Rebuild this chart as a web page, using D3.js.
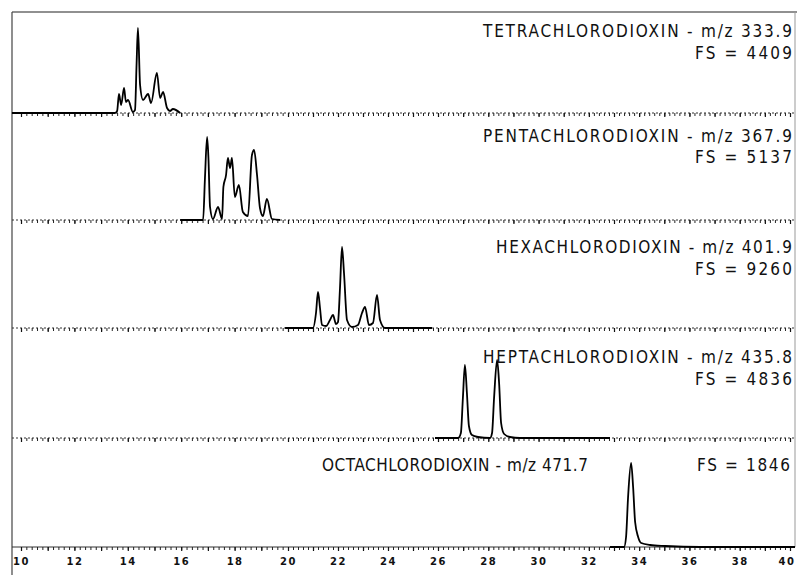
<!DOCTYPE html>
<html>
<head>
<meta charset="utf-8">
<script src="https://cdn.jsdelivr.net/npm/d3@7"></script>
<style>
  body { margin: 0; background: #fff; }
  text { font-family: "DejaVu Sans Condensed", "DejaVu Sans", sans-serif; fill: #111; }
</style>
</head>
<body>
<div id="chart"></div>
<script>
// retention time (min) and response (% of full scale), one pair per ion trace
var tetraTime = [9.66, 13.52, 13.60, 13.67, 13.75, 13.86, 13.93, 14.01, 14.19, 14.27, 14.33, 14.38, 14.46, 14.57, 14.76, 14.87, 15.09, 15.21, 15.32, 15.47, 15.58, 15.69, 15.96]
var tetraResp = [0, 0, 2, 19, 8, 25, 11, 13, 1, 3, 50, 85, 28, 13, 19, 10, 40, 15, 21, 5, 2, 4, 0]

var pentaTime = [15.96, 16.82, 16.89, 16.97, 17.02, 17.08, 17.19, 17.38, 17.53, 17.58, 17.68, 17.75, 17.83, 17.90, 18.01, 18.16, 18.31, 18.50, 18.65, 18.73, 18.84, 18.95, 19.06, 19.21, 19.40, 19.70]
var pentaResp = [0, 0, 42, 83, 62, 13, 1, 13, 1, 33, 45, 62, 52, 62, 23, 35, 8, 4, 65, 70, 45, 12, 4, 21, 1, 0]

var hexaTime = [19.89, 21.00, 21.12, 21.20, 21.28, 21.36, 21.52, 21.68, 21.80, 21.92, 22.00, 22.08, 22.16, 22.24, 22.36, 22.56, 22.80, 22.96, 23.08, 23.24, 23.40, 23.56, 23.68, 23.88, 25.76]
var hexaResp = [0, 0, 15, 36, 20, 3, 2, 8, 13, 4, 6, 40, 81, 55, 8, 1, 3, 15, 21, 3, 5, 33, 8, 0, 0]

var heptaTime = [25.88, 26.80, 26.91, 26.99, 27.07, 27.15, 27.23, 27.35, 27.59, 28.07, 28.15, 28.23, 28.35, 28.43, 28.51, 28.63, 28.86, 29.26, 32.84]
var heptaResp = [0, 0, 5, 40, 73, 45, 12, 3, 1, 0, 5, 40, 78, 55, 15, 4, 1, 0, 0]

var octaTime = [32.84, 33.40, 33.48, 33.56, 33.68, 33.76, 33.84, 33.96, 34.08, 34.44, 35.04, 36.43, 40.2]
var octaResp = [0, 0, 10, 50, 84, 60, 25, 10, 4, 2, 1, 0, 0]

var compounds = ["TETRACHLORODIOXIN", "PENTACHLORODIOXIN", "HEXACHLORODIOXIN", "HEPTACHLORODIOXIN", "OCTACHLORODIOXIN"]
var masses = ["333.9", "367.9", "401.9", "435.8", "471.7"]
var fullScale = [4409, 5137, 9260, 4836, 1846]
var tickLabels = [10, 12, 14, 16, 18, 20, 22, 24, 26, 28, 30, 32, 34, 36, 38, 40]

var traces = [
  {time: tetraTime, resp: tetraResp},
  {time: pentaTime, resp: pentaResp},
  {time: hexaTime, resp: hexaResp},
  {time: heptaTime, resp: heptaResp},
  {time: octaTime, resp: octaResp}
]

var width = 797, height = 575

var svg = d3.select("#chart")
  .append("svg")
    .attr("width", width)
    .attr("height", height)

// the recorder chart is slightly stretched on the left half
var x = d3.scaleLinear()
  .domain([10, 20, 26, 40])
  .range([21, 288, 438, 790])

// layout of the five stacked panels
var baselines = [113, 220, 328, 438, 547]
var titleY = [37, 142, 253, 363, 471]
var fsY = [59, 163, 275, 385, 471]

// frame
svg.append("line").attr("x1", 12).attr("x2", 797).attr("y1", 12).attr("y2", 12)
  .attr("stroke", "#222").attr("stroke-width", 1.2)
svg.append("line").attr("x1", 12).attr("x2", 12).attr("y1", 12).attr("y2", 575)
  .attr("stroke", "#444").attr("stroke-width", 1.2)
svg.append("line").attr("x1", 795).attr("x2", 795).attr("y1", 12).attr("y2", 547)
  .attr("stroke", "#999").attr("stroke-width", 1)

var minorTicks = d3.range(0, 151).map(function(i) { return 10 + i * 0.2 })
var majorTicks = d3.range(10, 41)

traces.forEach(function(t, i) {
  var base = baselines[i]
  var y = d3.scaleLinear().domain([0, 100]).range([base, base - 100])

  // dotted time base with ticks
  var ax = svg.append("g")
    .attr("transform", "translate(0," + base + ")")
    .call(d3.axisBottom(x).tickValues(minorTicks).tickSize(3).tickSizeOuter(0).tickFormat(""))
  ax.select(".domain").attr("stroke", "#333").attr("stroke-dasharray", i == 4 ? null : "2,2")
    .attr("d", "M12,0H795")
  ax.selectAll(".tick line").attr("stroke", "#222")

  var ax2 = svg.append("g")
    .attr("transform", "translate(0," + base + ")")
    .call(d3.axisBottom(x).tickValues(majorTicks).tickSize(4).tickSizeOuter(0).tickFormat(""))
  ax2.select(".domain").remove()
  ax2.selectAll(".tick line").attr("stroke", "#111").attr("stroke-width", 1.2)

  var pts = t.time.map(function(d, j) { return {time: d, resp: t.resp[j]} })
  svg.append("path")
    .datum(pts)
    .attr("d", d3.line()
      .x(function(d) { return x(d.time) })
      .y(function(d) { return y(d.resp) })
      .curve(d3.curveMonotoneX)
    )
    .attr("stroke", "black")
    .style("stroke-width", 1.8)
    .style("fill", "none")

  var title = compounds[i] + " - m/z " + masses[i]
  var fs = "FS = " + fullScale[i]
  if (i < 4) {
    svg.append("text")
      .attr("x", 792).attr("y", titleY[i])
      .attr("text-anchor", "end")
      .attr("textLength", i == 2 ? 296 : 309)
      .attr("lengthAdjust", "spacing")
      .style("font-size", "17px")
      .text(title)
    svg.append("text")
      .attr("x", 792).attr("y", fsY[i])
      .attr("text-anchor", "end")
      .attr("textLength", 97)
      .attr("lengthAdjust", "spacing")
      .style("font-size", "17px")
      .text(fs)
  } else {
    svg.append("text")
      .attr("x", 588).attr("y", titleY[i])
      .attr("text-anchor", "end")
      .attr("textLength", 266)
      .attr("lengthAdjust", "spacing")
      .style("font-size", "17px")
      .text(title)
    svg.append("text")
      .attr("x", 790).attr("y", fsY[i])
      .attr("text-anchor", "end")
      .attr("textLength", 93)
      .attr("lengthAdjust", "spacing")
      .style("font-size", "17px")
      .text(fs)
  }
})

// time labels under the bottom trace
var lab = svg.append("g")
  .attr("transform", "translate(0," + baselines[4] + ")")
  .call(d3.axisBottom(x).tickValues(tickLabels).tickSize(0).tickPadding(11).tickFormat(d3.format("d")))
lab.select(".domain").remove()
lab.selectAll("text")
  .style("font-family", "'DejaVu Sans', sans-serif")
  .style("font-size", "10px")
  .style("font-weight", "bold")
  .style("letter-spacing", "1.5px")
  .attr("fill", "#111")
// last label sits against the right edge of the sheet
lab.selectAll("text").filter(function(d) { return d == 40 })
  .attr("text-anchor", "end")
  .attr("x", 5)
</script>
</body>
</html>
